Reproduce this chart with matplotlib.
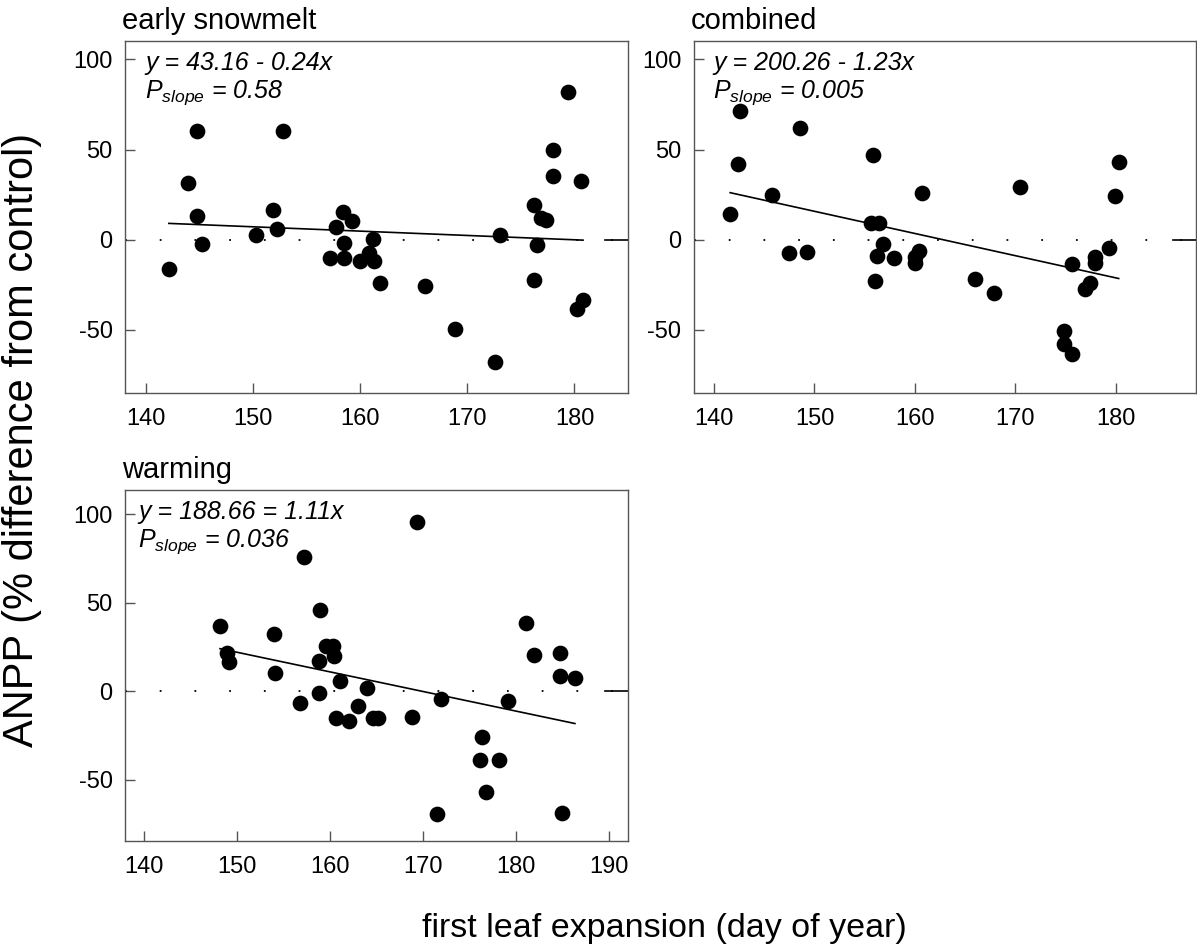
import matplotlib
matplotlib.use("Agg")
import matplotlib.pyplot as plt

plt.rcParams['font.family'] = ['Liberation Sans', 'DejaVu Sans']
plt.rcParams['mathtext.fontset'] = 'custom'
plt.rcParams['mathtext.rm'] = 'Liberation Sans'
plt.rcParams['mathtext.it'] = 'Liberation Sans:italic'
plt.rcParams['lines.scale_dashes'] = False

# early snowmelt
snow_x = [142.1, 143.9, 144.7, 144.7, 145.2, 150.2, 151.8, 152.2, 152.8, 157.2,
          157.7, 158.4, 158.5, 158.5, 159.2, 160.0, 160.8, 161.2, 161.3, 161.8,
          166.0, 168.8, 172.6, 173.0, 176.2, 176.2, 176.5, 176.9, 177.3, 178.0,
          178.0, 179.4, 180.6, 180.2, 180.8]
snow_y = [-16.3, 31.2, 60.3, 13.3, -2.2, 2.6, 16.3, 6.1, 60.1, -10.4,
          6.8, 15.5, -2.0, -10.0, 10.4, -11.8, -7.2, 0.2, -11.6, -23.8,
          -25.5, -49.7, -68.0, 2.4, 19.4, -22.2, -3.1, 11.8, 10.9, 35.3,
          49.9, 81.9, 32.5, -38.4, -33.5]

# combined
comb_x = [141.6, 142.4, 142.6, 145.8, 147.5, 148.6, 149.3, 155.6, 155.8, 156.4,
          156.0, 156.2, 156.8, 157.9, 160.0, 160.0, 160.4, 160.7, 166.0, 167.9,
          170.5, 174.9, 174.9, 175.6, 175.6, 176.9, 177.4, 177.9, 177.9, 179.3,
          179.9, 180.3]
comb_y = [14.4, 42.1, 71.2, 25.0, -7.2, 61.9, -6.7, 9.2, 46.9, 9.2,
          -22.7, -9.1, -2.4, -10.2, -9.4, -12.8, -6.1, 25.9, -21.6, -29.8,
          29.0, -50.6, -57.7, -63.4, -13.5, -27.2, -24.2, -9.4, -12.8, -4.4,
          24.4, 43.3]

# warming
warm_x = [148.2, 149.0, 149.2, 154.0, 154.1, 156.8, 157.2, 158.8, 158.9, 158.8,
          159.6, 160.3, 160.4, 160.6, 161.1, 162.0, 163.0, 164.0, 164.6, 165.2,
          168.8, 169.4, 171.5, 171.9, 176.1, 176.3, 176.8, 178.2, 179.1, 181.1,
          181.9, 184.7, 184.7, 184.9, 186.3]
warm_y = [37.2, 21.7, 16.6, 32.3, 10.4, -6.6, 76.2, 17.4, 46.2, -0.9,
          25.5, 25.5, 19.8, -15.1, 5.7, -16.6, -8.5, 1.9, -15.1, -15.1,
          -14.7, 95.7, -69.4, -4.0, -38.7, -25.8, -56.6, -38.7, -5.3, 38.9,
          20.4, 21.5, 8.5, -68.9, 7.4]

titles = ["early snowmelt", "combined", "warming"]
intercepts = [43.16, 200.26, 188.66]
slopes = [-0.24, -1.23, -1.11]
eq_labels = ["y = 43.16 - 0.24x", "y = 200.26 - 1.23x", "y = 188.66 = 1.11x"]
p_labels = ["0.58", "0.005", "0.036"]

fig = plt.figure(figsize=(11.97, 9.47), dpi=100)
W, H = 1197.0, 947.0

def make_ax(left, top, right, bottom):
    return fig.add_axes([left / W, 1 - bottom / H, (right - left) / W, (bottom - top) / H])

axes = [make_ax(125, 41, 628, 393), make_ax(694, 41, 1196, 393), make_ax(125, 490, 628, 841)]
xlims = [(138, 185), (138, 188), (138, 192)]
ylims = [(-85, 110.2), (-85, 110.2), (-84.5, 113.8)]
xticks = [[140, 150, 160, 170, 180], [140, 150, 160, 170, 180], [140, 150, 160, 170, 180, 190]]
data = [(snow_x, snow_y), (comb_x, comb_y), (warm_x, warm_y)]
text_off = [20, 19, 13]

for i, ax in enumerate(axes):
    xs, ys = data[i]
    ax.set_xlim(*xlims[i])
    ax.set_ylim(*ylims[i])
    ax.set_xticks(xticks[i])
    ax.set_yticks([-50, 0, 50, 100])
    ax.set_yticklabels(["-50", "0", "50", "100"])
    for s in ax.spines.values():
        s.set_color('#555555')
        s.set_linewidth(1.0)
    ax.tick_params(direction='in', length=7, width=1.0, color='#555555',
                   labelsize=17, top=False, right=False)
    ax.tick_params(axis='y', pad=9)
    ax.tick_params(axis='x', pad=11)

    # zero reference line
    ax.axhline(0, color='black', lw=1.3, dashes=(1.3, 23.7), dash_capstyle='butt')
    ax.axhline(0, xmin=0.955, xmax=1.0, color='black', lw=1.2)

    # regression line over the data range
    x0, x1 = min(xs), max(xs)
    ax.plot([x0, x1], [intercepts[i] + slopes[i] * x0, intercepts[i] + slopes[i] * x1],
            color='black', lw=1.2, zorder=2)

    ax.plot(xs, ys, 'o', color='black', markersize=10.3, zorder=3)

    ax.annotate(eq_labels[i], xy=(0, 1), xycoords='axes fraction',
                xytext=(text_off[i], -29), textcoords='offset pixels',
                fontsize=18, style='italic', va='baseline')
    ax.annotate("$P_{slope}$ = " + p_labels[i], xy=(0, 1), xycoords='axes fraction',
                xytext=(text_off[i], -57), textcoords='offset pixels',
                fontsize=18, style='italic', va='baseline')
    ax.annotate(titles[i], xy=(0, 1), xycoords='axes fraction',
                xytext=(-3, 12), textcoords='offset pixels',
                fontsize=21, va='baseline')

fig.text(22 / W, 1 - 440 / H, "ANPP (% difference from control)", rotation=90,
         fontsize=30, ha='center', va='center')
fig.text(664 / W, 1 - 937 / H, "first leaf expansion (day of year)",
         fontsize=24.5, ha='center', va='baseline')

fig.savefig("out.png", dpi=100)
